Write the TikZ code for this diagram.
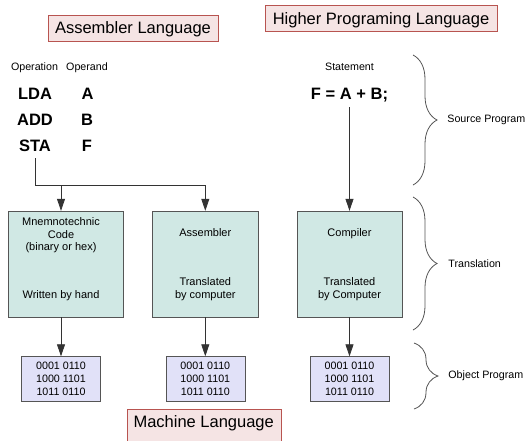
\documentclass[tikz,border=0pt]{standalone}
\usepackage{fontspec}
\setmainfont{Liberation Sans}
\usetikzlibrary{positioning,arrows.meta,decorations.pathreplacing}
\definecolor{titlefill}{HTML}{F5E4E4}
\definecolor{titleline}{HTML}{B85450}
\definecolor{transfill}{HTML}{D0E8E4}
\definecolor{objfill}{HTML}{E1E1F8}
\definecolor{boxline}{HTML}{555555}
\definecolor{wirecol}{HTML}{333333}

\begin{document}
\begin{tikzpicture}[x=1pt,y=-1pt,>={Triangle[length=12pt,width=8pt]},
  title/.style={draw=titleline,fill=titlefill,font=\fontsize{16.5}{19}\selectfont,text height=11pt,text depth=0pt,minimum height=26pt,inner sep=0pt},
  small/.style={font=\fontsize{10.7}{12.5}\selectfont,inner sep=0pt},
  code/.style={font=\fontsize{16.5}{19}\selectfont\bfseries,inner sep=0pt},
  trans/.style={draw=boxline,fill=transfill,minimum height=106pt},
  boxtext/.style={font=\fontsize{11}{12.4}\selectfont,align=center,inner sep=0pt},
  obj/.style={draw=boxline,fill=objfill,minimum width=79pt,minimum height=45pt,align=center,inner sep=0pt,font=\fontsize{10.7}{12.7}\selectfont},
  brace/.style={draw=boxline,line width=0.8pt,decorate,decoration={brace,amplitude=24pt}},
  wire/.style={draw=wirecol,line width=0.8pt}]
\useasboundingbox (0,0) rectangle (531,440);

\node[title,minimum width=170pt] (asmlang) at (133,28) {Assembler Language};
\node[title,minimum width=232pt] (highlang) at (381,18.5) {Higher Programing Language};
\node[title,minimum width=154pt,minimum height=36pt,text depth=10pt] (machlang) at (203.7,427) {Machine Language};

\node[small,anchor=base] (opcol) at (34.5,70) {Operation};
\node[small,anchor=base] (argcol) at (87,70) {Operand};
\node[code,anchor=base] (lda) at (35,99) {LDA};
\node[code] (add) [on grid,below=26pt of lda] {ADD};
\node[code] (sta) [on grid,below=26pt of add] {STA};
\node[code] (ldaarg) [on grid,right=52.5pt of lda] {A};
\node[code] (addarg) [on grid,right=52pt of add] {B};
\node[code] (staarg) [on grid,right=52pt of sta] {F};
\node[small,anchor=base] (stmtcol) at (349.5,70.5) {Statement};
\node[code,anchor=base] (stmt) at (349.5,99) {F = A + B;};

\node[trans,minimum width=115pt] (mnem) at (65.8,264) {};
\node[trans,minimum width=106pt] (asm) at (205.3,264) {};
\node[trans,minimum width=105pt] (comp) at (349.5,264) {};
\node[boxtext] (mnemtop) [below=7pt of mnem.north,xshift=-4.8pt] {Mnemnotechnic\\Code\\(binary or hex)};
\node[boxtext] (mnembot) [below=80pt of mnem.north,xshift=-4.8pt] {Written by hand};
\node[boxtext] (asmtop) [below=18pt of asm.north] {Assembler};
\node[boxtext] (asmbot) [below=67pt of asm.north] {Translated\\by computer};
\node[boxtext] (comptop) [below=18pt of comp.north] {Compiler};
\node[boxtext] (compbot) [below=67pt of comp.north] {Translated\\by Computer};

\node[obj] (obja) at (61,379) {0001 0110\\1000 1101\\1011 0110};
\node[obj] (objb) at (205.3,379) {0001 0110\\1000 1101\\1011 0110};
\node[obj] (objc) at (349.5,379) {0001 0110\\1000 1101\\1011 0110};

\coordinate (split) at (sta.base |- 0,185);
\draw[wire,->,shorten <=7pt] (sta.base) -- (split) -| (asm.north);
\draw[wire,->] (split -| mnemtop) -- (mnemtop |- mnem.north);
\draw[wire,->,shorten <=8pt] (stmt.base) -- (comp.north);
\draw[wire,->] (mnemtop |- mnem.south) -- (obja.north);
\draw[wire,->] (asm.south) -- (objb.north);
\draw[wire,->] (comp.south) -- (objc.north);

\draw[brace] (413,55) -- (413,185) node[small,midway,right=34pt] (srclabel) {Source Program};
\draw[brace] (413,197) -- (413,330) node[small,midway,right=35pt] (translabel) {Translation};
\draw[brace] (414,343) -- (414,409) node[small,midway,right=34pt] (objlabel) {Object Program};
\end{tikzpicture}
\end{document}
